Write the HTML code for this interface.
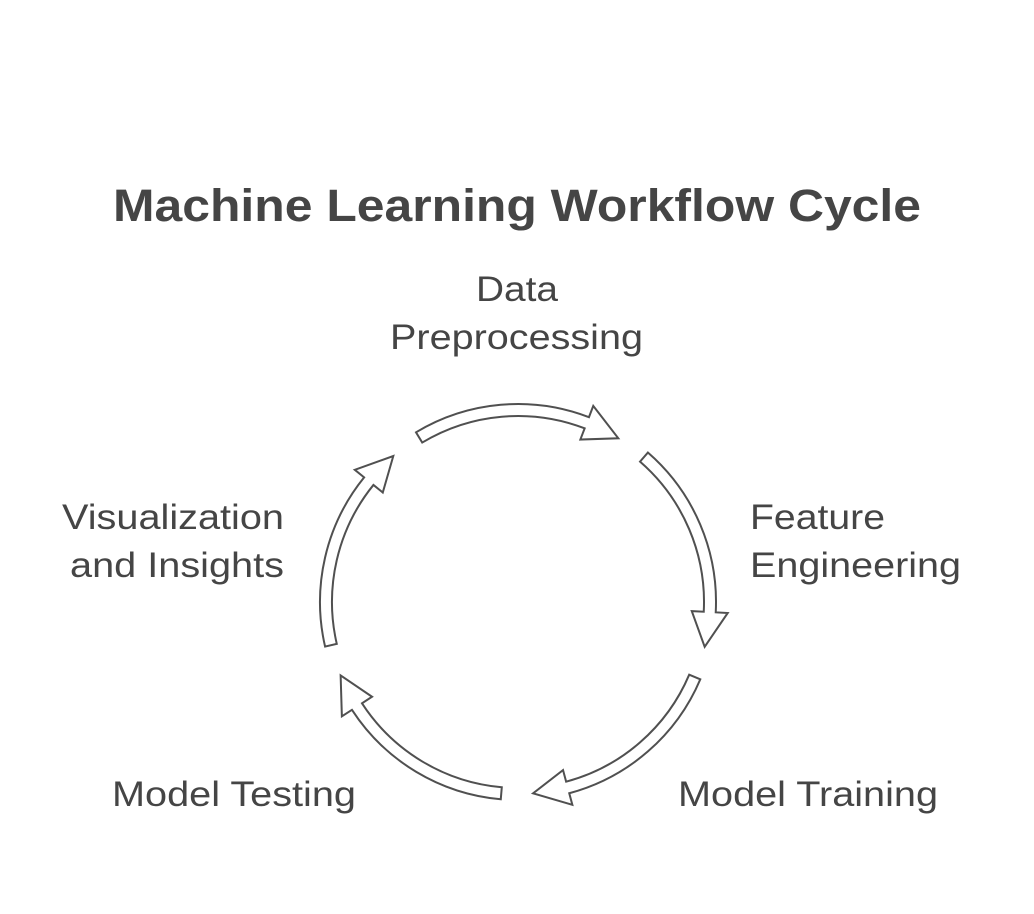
<!DOCTYPE html>
<html><head><meta charset="utf-8"><style>
body{margin:0;background:#fff;}
svg{display:block;}
text{font-family:"Liberation Sans",Arial,sans-serif;fill:#454545;}
</style></head><body>
<svg width="1034" height="914" viewBox="0 0 1034 914" xmlns="http://www.w3.org/2000/svg">
<rect width="1034" height="914" fill="#fff"/>
<text x="113" y="221" font-size="45" font-weight="bold" textLength="808" lengthAdjust="spacingAndGlyphs">Machine Learning Workflow Cycle</text>
<defs>
<path id="arr" d="M -102.0 -169.7 A198 198 0 0 1 70.96 -184.85 L75.26 -196.06 L100.3 -163.7 L62.36 -162.45 L66.66 -173.65 A186 186 0 0 0 -95.79 -159.44 Z" fill="#fff" stroke="#505050" stroke-width="2" stroke-linejoin="miter"/>
</defs>
<g transform="translate(518,602)">
<use href="#arr"/>
<use href="#arr" transform="rotate(72)"/>
<use href="#arr" transform="rotate(144)"/>
<use href="#arr" transform="rotate(216)"/>
<use href="#arr" transform="rotate(288)"/>
</g>
<g font-size="35" lengthAdjust="spacingAndGlyphs">
<text x="476" y="301" textLength="82" lengthAdjust="spacingAndGlyphs">Data</text>
<text x="390" y="349" textLength="253" lengthAdjust="spacingAndGlyphs">Preprocessing</text>
<text x="750" y="529" textLength="135" lengthAdjust="spacingAndGlyphs">Feature</text>
<text x="750" y="577" textLength="211" lengthAdjust="spacingAndGlyphs">Engineering</text>
<text x="678" y="806" textLength="260" lengthAdjust="spacingAndGlyphs">Model Training</text>
<text x="112" y="806" textLength="244" lengthAdjust="spacingAndGlyphs">Model Testing</text>
<text x="62" y="529" textLength="222" lengthAdjust="spacingAndGlyphs">Visualization</text>
<text x="70" y="577" textLength="214" lengthAdjust="spacingAndGlyphs">and Insights</text>
</g>
</svg>
</body></html>
